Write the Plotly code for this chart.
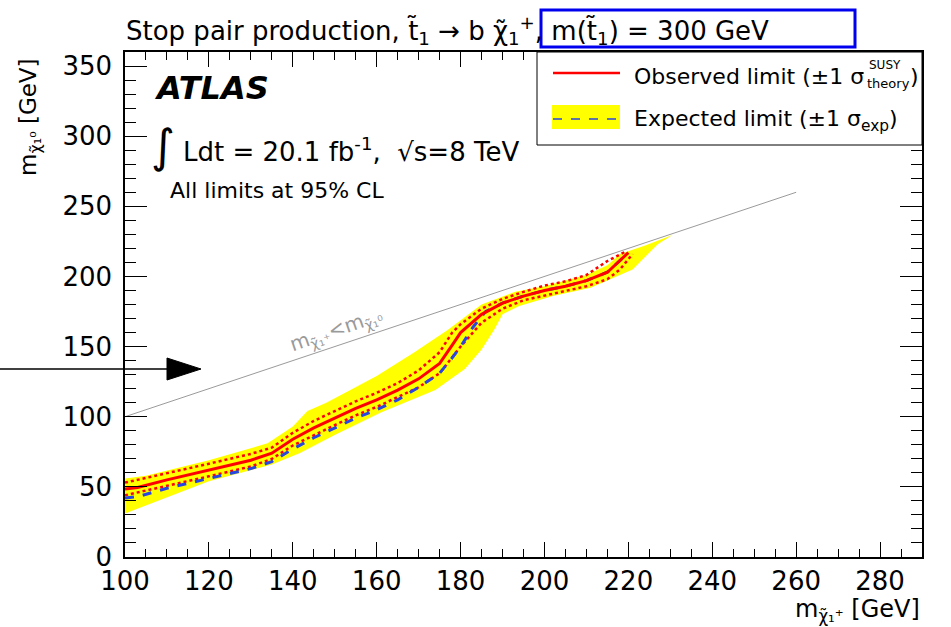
import plotly.graph_objects as go

# ---------------- data ----------------
obs_x = [100, 103, 110, 120, 130, 135, 140, 145, 150, 155, 160, 165, 170, 175, 178, 180, 185, 190, 195, 200, 205, 210, 215, 220]
obs_y = [48.5, 49.5, 55, 62, 69, 74, 84, 92, 99, 106, 112, 119, 127, 138, 151, 160, 173, 181, 186, 190, 193, 197, 203, 217]

exp_x = [100, 103, 110, 120, 130, 135, 140, 145, 150, 155, 160, 165, 170, 175, 178, 180, 183, 186, 190, 195, 200, 205, 210, 215, 220]
exp_y = [42, 43, 49, 56, 63, 68, 77, 85, 92, 99, 105, 112, 121, 131, 142, 150, 164, 175, 181, 186, 190, 193, 197, 203, 217]

theo_up_x = [100, 110, 120, 130, 135, 140, 145, 150, 155, 160, 165, 170, 175, 178, 180, 185, 190, 195, 200, 205, 210, 215, 219.5]
theo_up_y = [53, 59.5, 66.5, 73.5, 78, 88.5, 97, 104, 111, 117, 124, 133, 146, 160, 166, 177, 184, 189, 193.5, 196.5, 201, 211, 218]

theo_dn_x = [100, 110, 120, 130, 135, 140, 145, 150, 155, 160, 165, 170, 175, 178, 180, 185, 190, 195, 200, 205, 210, 215, 218, 221]
theo_dn_y = [44, 50.5, 57.5, 64.5, 70, 79.5, 87, 94, 101, 107, 114, 121, 131, 142, 150, 167, 177, 183, 186.5, 189.5, 193, 198, 205, 216]

band_up_x = [100, 105, 120, 134, 140, 142, 143.5, 145, 148, 160, 169, 177, 185, 193, 200, 210, 215, 218, 224, 230.5]
band_up_y = [56, 58, 69, 81, 93, 99, 104, 106, 110, 129, 146, 162, 180, 189, 193, 201, 208, 216, 222, 229.5]
band_dn_x = [100, 120, 135, 141.6, 150, 161, 174, 181, 185, 188, 190, 194, 202, 211, 219.5, 221, 227]
band_dn_y = [31, 54, 66, 74, 87, 103, 119, 134, 148, 162, 173, 179, 186, 192, 203, 205, 223]

diag_x = [100, 260]
diag_y = [100, 260]

x_range = [100, 290]
y_range = [0, 360]

# ---------------- layout helpers ----------------
W, H = 951, 627
L, R, T, B = 125, 29, 52, 70
PW, PH = W - L - R, H - T - B


def px(x):
    return (x - L) / PW


def py(y):
    return (H - B - y) / PH


FONT = "DejaVu Sans"

fig = go.Figure()

# yellow band
fig.add_trace(go.Scatter(
    x=band_up_x + band_dn_x[::-1], y=band_up_y + band_dn_y[::-1],
    fill="toself", fillcolor="#ffff00", line=dict(width=0), mode="lines",
    hoverinfo="skip", showlegend=False))

# diagonal kinematic line
fig.add_trace(go.Scatter(x=diag_x, y=diag_y, mode="lines",
                         line=dict(color="#9a9a9a", width=1), showlegend=False))

# theory +-1 sigma
fig.add_trace(go.Scatter(x=theo_up_x, y=theo_up_y, mode="lines",
                         line=dict(color="#ff0000", width=2.5, dash="dot"), showlegend=False))
fig.add_trace(go.Scatter(x=theo_dn_x, y=theo_dn_y, mode="lines",
                         line=dict(color="#ff0000", width=2.5, dash="dot"), showlegend=False))

# expected
fig.add_trace(go.Scatter(x=exp_x, y=exp_y, mode="lines",
                         line=dict(color="rgb(40,70,225)", width=3, dash="dash"), showlegend=False))

# observed
fig.add_trace(go.Scatter(x=obs_x, y=obs_y, mode="lines",
                         line=dict(color="#ff0000", width=3), showlegend=False))

axis_common = dict(
    showline=True, linecolor="black", linewidth=1.5, mirror="allticks",
    ticks="inside", tickcolor="black", tickwidth=1,
    showgrid=False, zeroline=False,
    tickfont=dict(family=FONT, size=26, color="black"),
)

fig.update_xaxes(range=x_range, dtick=20, ticklen=15,
                 minor=dict(dtick=5, ticklen=8, ticks="inside", tickcolor="black", showgrid=False),
                 **axis_common)
fig.update_yaxes(range=y_range, dtick=50, ticklen=22, ticklabelstandoff=6,
                 minor=dict(dtick=10, ticklen=11, ticks="inside", tickcolor="black", showgrid=False),
                 **axis_common)

shapes = []
# blue box in title
shapes.append(dict(type="rect", xref="paper", yref="paper",
                   x0=px(541), x1=px(855), y0=py(47), y1=py(10),
                   line=dict(color="#0000ee", width=3)))
# arrow
shapes.append(dict(type="line", xref="paper", yref="paper",
                   x0=px(0), x1=px(168), y0=py(369), y1=py(369),
                   line=dict(color="black", width=1.5)))
shapes.append(dict(type="path", xref="paper", yref="paper",
                   path=f"M {px(167)} {py(358)} L {px(201)} {py(369)} L {px(167)} {py(380)} Z",
                   fillcolor="black", line=dict(color="black", width=1)))
# legend box
shapes.append(dict(type="rect", xref="paper", yref="paper",
                   x0=px(537), x1=px(922), y0=py(145), y1=py(52),
                   fillcolor="white", line=dict(color="black", width=1), layer="above"))
shapes.append(dict(type="line", xref="paper", yref="paper",
                   x0=px(553), x1=px(620), y0=py(73), y1=py(73),
                   line=dict(color="#ff0000", width=2.5), layer="above"))
shapes.append(dict(type="rect", xref="paper", yref="paper",
                   x0=px(552), x1=px(620), y0=py(129), y1=py(105),
                   fillcolor="#ffff00", line=dict(width=0), layer="above"))
shapes.append(dict(type="line", xref="paper", yref="paper",
                   x0=px(553), x1=px(620), y0=py(119), y1=py(119),
                   line=dict(color="rgb(40,70,225)", width=1.5, dash="dash"), layer="above"))

annotations = []


def ann(x, y, text, size, xanchor="left", yanchor="middle", color="black", **kw):
    annotations.append(dict(xref="paper", yref="paper", x=px(x), y=py(y),
                            xanchor=xanchor, yanchor=yanchor, showarrow=False,
                            text=text, font=dict(family=FONT, size=size, color=color), **kw))


ann(124, 31, "Stop pair production, t\u0303<sub>1</sub> \u2192 b \u03c7\u0303<sub>1</sub><sup>+</sup>, m(t\u0303<sub>1</sub>) = 300 GeV", 26)
ann(152, 88, "<b><i>ATLAS</i></b>", 32)
ann(163, 146, "\u222b", 46, xanchor="center")
ann(181, 150, "Ldt = 20.1 fb<sup>-1</sup>,  \u221as=8 TeV", 26)
ann(168, 190, "All limits at 95% CL", 22)
# legend texts
ann(632, 76, "Observed limit (\u00b11 \u03c3", 22)
ann(867, 65, "SUSY", 12)
ann(865, 84, "theory", 13)
ann(908, 76, ")", 22)
ann(632, 120, "Expected limit (\u00b11 \u03c3<sub>exp</sub>)", 22)
# axis titles
ann(922, 610, "m<sub>\u03c7\u0303\u2081\u207a</sub> [GeV]", 24, xanchor="right")
ann(30, 56, "m<sub>\u03c7\u0303\u2081\u2070</sub> [GeV]", 23, xanchor="center", yanchor="top", textangle=-90)

# diagonal label
annotations.append(dict(xref="x", yref="y", x=150.5, y=162,
                        xanchor="center", yanchor="middle", showarrow=False, textangle=-19,
                        text="m<sub>\u03c7\u0303\u2081\u207a</sub><m<sub>\u03c7\u0303\u2081\u2070</sub>",
                        font=dict(family=FONT, size=20, color="#9a9a9a")))

fig.update_layout(
    width=W, height=H,
    margin=dict(l=L, r=R, t=T, b=B, pad=0),
    paper_bgcolor="white", plot_bgcolor="white",
    showlegend=False,
    shapes=shapes, annotations=annotations,
    font=dict(family=FONT, color="black"),
)

fig.write_html("out.html")
